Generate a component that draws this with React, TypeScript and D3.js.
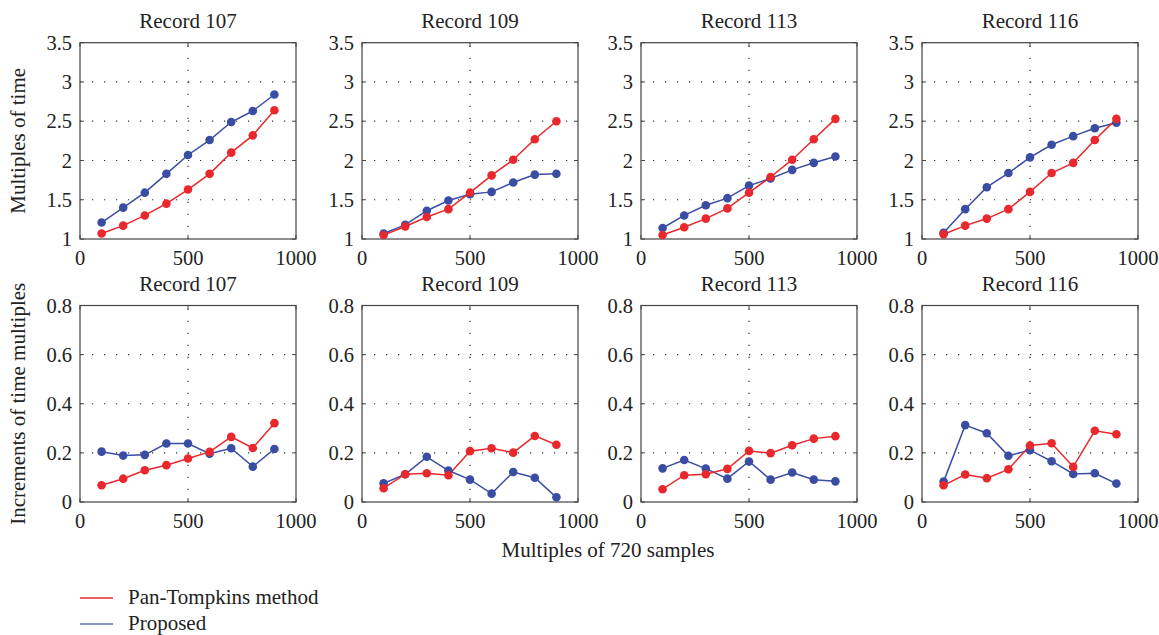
import React from 'react';
import * as d3 from 'd3';

const xValues = [100, 200, 300, 400, 500, 600, 700, 800, 900];
const recordNames = ['Record 107', 'Record 109', 'Record 113', 'Record 116'];
const seriesNames = ['Pan-Tompkins method', 'Proposed'];

// Top row: multiples of time
const panTime107 = [1.07, 1.17, 1.30, 1.45, 1.63, 1.83, 2.10, 2.32, 2.64];
const propTime107 = [1.21, 1.40, 1.59, 1.83, 2.07, 2.26, 2.49, 2.63, 2.84];
const panTime109 = [1.05, 1.16, 1.28, 1.38, 1.59, 1.81, 2.01, 2.27, 2.50];
const propTime109 = [1.07, 1.18, 1.36, 1.49, 1.57, 1.60, 1.72, 1.82, 1.83];
const panTime113 = [1.05, 1.15, 1.26, 1.39, 1.59, 1.79, 2.01, 2.27, 2.53];
const propTime113 = [1.14, 1.30, 1.43, 1.52, 1.68, 1.77, 1.88, 1.97, 2.05];
const panTime116 = [1.06, 1.17, 1.26, 1.38, 1.60, 1.84, 1.97, 2.26, 2.53];
const propTime116 = [1.08, 1.38, 1.66, 1.84, 2.04, 2.20, 2.31, 2.41, 2.48];

// Bottom row: increments of time multiples
const panInc107 = [0.068, 0.095, 0.129, 0.150, 0.177, 0.204, 0.265, 0.220, 0.321];
const propInc107 = [0.205, 0.189, 0.192, 0.238, 0.238, 0.197, 0.219, 0.144, 0.216];
const panInc109 = [0.056, 0.113, 0.117, 0.109, 0.207, 0.219, 0.201, 0.269, 0.233];
const propInc109 = [0.076, 0.113, 0.184, 0.128, 0.091, 0.034, 0.122, 0.099, 0.019];
const panInc113 = [0.052, 0.109, 0.113, 0.135, 0.208, 0.199, 0.231, 0.258, 0.268];
const propInc113 = [0.137, 0.171, 0.136, 0.095, 0.165, 0.091, 0.120, 0.091, 0.084];
const panInc116 = [0.068, 0.112, 0.097, 0.133, 0.230, 0.239, 0.143, 0.290, 0.276];
const propInc116 = [0.083, 0.313, 0.280, 0.188, 0.211, 0.166, 0.114, 0.117, 0.075];

const xTicks = [0, 500, 1000];
const timeTicks = [1, 1.5, 2, 2.5, 3, 3.5];
const incTicks = [0, 0.2, 0.4, 0.6, 0.8];

const topPan = [panTime107, panTime109, panTime113, panTime116];
const topProp = [propTime107, propTime109, propTime113, propTime116];
const botPan = [panInc107, panInc109, panInc113, panInc116];
const botProp = [propInc107, propInc109, propInc113, propInc116];

const RED = '#e8282c';
const BLUE = '#3a4da3';
const FONT = "'Liberation Serif', 'DejaVu Serif', serif";
const FS = 21;
const TFS = 20.5;

const panelLefts = [80, 362, 641, 922];
const panelW = 216;

type PanelProps = {
  left: number; top: number; bottom: number;
  title: string; pan: number[]; prop: number[];
  yDomain: [number, number]; yTicks: number[];
};

function Panel({ left, top, bottom, title, pan, prop, yDomain, yTicks }: PanelProps) {
  const x = d3.scaleLinear().domain([0, 1000]).range([left, left + panelW]);
  const y = d3.scaleLinear().domain(yDomain).range([bottom, top]);
  const line = d3.line<number>().x((_, i) => x(xValues[i])).y((d) => y(d));
  const tickLen = 4;
  const axisCol = '#444';
  const fmt = (v: number) => String(v);
  return (
    <g>
      <text x={left + panelW / 2} y={top - 15} textAnchor="middle" fontFamily={FONT} fontSize={FS} fill="#222">{title}</text>
      {yTicks.filter((t) => t > yDomain[0] && t < yDomain[1]).map((t) => (
        <line key={'gy' + t} x1={left} x2={left + panelW} y1={y(t)} y2={y(t)} stroke="#333" strokeWidth={1.2} strokeDasharray="1.2,10.8" />
      ))}
      {xTicks.filter((t) => t > 0 && t < 1000).map((t) => (
        <line key={'gx' + t} x1={x(t)} x2={x(t)} y1={bottom} y2={top} stroke="#333" strokeWidth={1.2} strokeDasharray="1.2,10.8" />
      ))}
      {yTicks.map((t) => (
        <g key={'ty' + t}>
          <line x1={left} x2={left + tickLen} y1={y(t)} y2={y(t)} stroke={axisCol} />
          <line x1={left + panelW} x2={left + panelW - tickLen} y1={y(t)} y2={y(t)} stroke={axisCol} />
          <text x={left - 8} y={y(t)} dy="0.35em" textAnchor="end" fontFamily={FONT} fontSize={TFS} fill="#222">{fmt(t)}</text>
        </g>
      ))}
      {xTicks.map((t) => (
        <g key={'tx' + t}>
          <line x1={x(t)} x2={x(t)} y1={bottom} y2={bottom - tickLen} stroke={axisCol} />
          <line x1={x(t)} x2={x(t)} y1={top} y2={top + tickLen} stroke={axisCol} />
          <text x={x(t)} y={bottom + 26} textAnchor="middle" fontFamily={FONT} fontSize={TFS} fill="#222">{fmt(t)}</text>
        </g>
      ))}
      <rect x={left} y={top} width={panelW} height={bottom - top} fill="none" stroke={axisCol} strokeWidth={1.2} />
      <path d={line(prop) || ''} fill="none" stroke={BLUE} strokeWidth={1.5} />
      <path d={line(pan) || ''} fill="none" stroke={RED} strokeWidth={1.5} />
      {prop.map((v, i) => (
        <circle key={'b' + i} cx={x(xValues[i])} cy={y(v)} r={4.3} fill={BLUE} />
      ))}
      {pan.map((v, i) => (
        <circle key={'r' + i} cx={x(xValues[i])} cy={y(v)} r={4.3} fill={RED} />
      ))}
    </g>
  );
}

export default function App() {
  const topT = 42.7, topB = 239;
  const botT = 305.5, botB = 502;
  return (
    <svg width={1159} height={635} style={{ position: 'absolute', left: 0, top: 0, background: '#fff' }}>
      <rect width={1159} height={635} fill="#fff" />
      {recordNames.map((name, i) => (
        <Panel key={'t' + i} left={panelLefts[i]} top={topT} bottom={topB} title={name}
          pan={topPan[i]} prop={topProp[i]} yDomain={[1, 3.5]} yTicks={timeTicks} />
      ))}
      {recordNames.map((name, i) => (
        <Panel key={'b' + i} left={panelLefts[i]} top={botT} bottom={botB} title={name}
          pan={botPan[i]} prop={botProp[i]} yDomain={[0, 0.8]} yTicks={incTicks} />
      ))}
      <text transform={`translate(25,${(topT + topB) / 2}) rotate(-90)`} textAnchor="middle" fontFamily={FONT} fontSize={FS} fill="#222">Multiples of time</text>
      <text transform={`translate(25,${(botT + botB) / 2}) rotate(-90)`} textAnchor="middle" fontFamily={FONT} fontSize={FS} fill="#222">Increments of time multiples</text>
      <text x={608} y={557} textAnchor="middle" fontFamily={FONT} fontSize={FS} fill="#222">Multiples of 720 samples</text>
      <line x1={80} x2={113} y1={598} y2={598} stroke={RED} strokeWidth={1.3} />
      <text x={128} y={603.5} fontFamily={FONT} fontSize={FS} fill="#222">{seriesNames[0]}</text>
      <line x1={80} x2={113} y1={624} y2={624} stroke={BLUE} strokeWidth={1.3} opacity={0.8} />
      <text x={128} y={629.5} fontFamily={FONT} fontSize={FS} fill="#222">{seriesNames[1]}</text>
    </svg>
  );
}
